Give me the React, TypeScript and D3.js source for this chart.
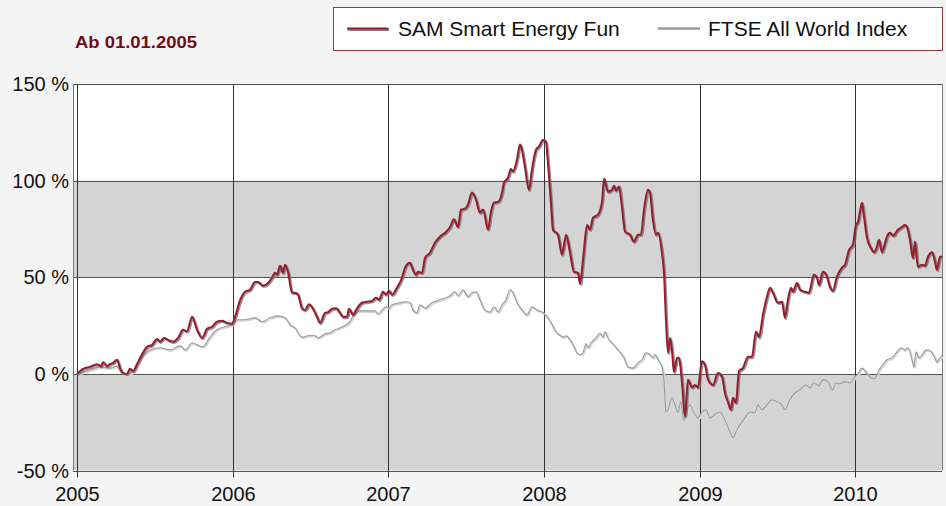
import React from 'react';
import * as d3 from 'd3';

// years since 01.01.2005, performance in %
const samSeries: [number, number][] = [
  [0, 0], [0.039, 2.6], [0.083, 3.6], [0.128, 5], [0.154, 4], [0.167, 6], [0.193, 4], [0.212, 5],
  [0.231, 5.7], [0.257, 7.3], [0.276, 3], [0.295, 0.5], [0.321, 0], [0.34, 2.6], [0.36, 1.5],
  [0.385, 5], [0.417, 10], [0.45, 14], [0.482, 15], [0.514, 18], [0.533, 16.6], [0.559, 18.6],
  [0.584, 17.6], [0.617, 16.6], [0.649, 18.6], [0.681, 22.8], [0.706, 22], [0.739, 29.5],
  [0.771, 22.8], [0.803, 18.6], [0.835, 23.3], [0.867, 24.4], [0.899, 27], [0.931, 27.5],
  [0.963, 26.4], [0.996, 26], [1.015, 29.5], [1.047, 38], [1.079, 42.5], [1.111, 43.5],
  [1.143, 47.6], [1.162, 47.6], [1.195, 45.6], [1.227, 47], [1.252, 49.7], [1.272, 52.3],
  [1.285, 51.3], [1.304, 56], [1.323, 52.3], [1.336, 56.5], [1.355, 52.8], [1.381, 42],
  [1.4, 42], [1.419, 41], [1.445, 34], [1.464, 33], [1.49, 36], [1.516, 33.7], [1.541, 29.5],
  [1.561, 26.4], [1.593, 31.6], [1.612, 32], [1.638, 33.7], [1.663, 34], [1.689, 31.6],
  [1.708, 29.5], [1.734, 29.5], [1.747, 33.7], [1.773, 30.6], [1.792, 33], [1.83, 36.8],
  [1.863, 37.3], [1.895, 37.8], [1.92, 39.4], [1.94, 38.3], [1.965, 42.5], [1.985, 41],
  [2.004, 43], [2.023, 41], [2.055, 44.6], [2.087, 49.7], [2.107, 55], [2.139, 57.5],
  [2.152, 55], [2.177, 51.3], [2.19, 52.8], [2.216, 52.3], [2.235, 60], [2.267, 62.7],
  [2.299, 67.9], [2.331, 71], [2.364, 73], [2.396, 76], [2.421, 80], [2.447, 76], [2.466, 85],
  [2.492, 85.5], [2.511, 87.6], [2.537, 93.8], [2.563, 90], [2.588, 83.4], [2.608, 85],
  [2.64, 74.6], [2.659, 84], [2.678, 88.6], [2.704, 89], [2.73, 93.8], [2.742, 99],
  [2.768, 101.5], [2.787, 106], [2.8, 104.7], [2.826, 111], [2.845, 118.7], [2.858, 116],
  [2.877, 107], [2.903, 95.3], [2.922, 105.7], [2.948, 116], [2.967, 117.6], [2.993, 121],
  [3.012, 120], [3.025, 109], [3.044, 88.6], [3.057, 74.6], [3.089, 72], [3.115, 61.7],
  [3.141, 72], [3.166, 63], [3.192, 52.8], [3.218, 52.3], [3.231, 46.6], [3.25, 59], [3.276, 77],
  [3.295, 74.6], [3.314, 80.8], [3.346, 82.4], [3.372, 89], [3.385, 101], [3.41, 94.3],
  [3.436, 95.3], [3.449, 97.4], [3.462, 94.8], [3.481, 97], [3.5, 86.5], [3.52, 73.6],
  [3.552, 72], [3.577, 68.4], [3.603, 72], [3.622, 72], [3.642, 85], [3.667, 95.3],
  [3.68, 93.8], [3.699, 79.8], [3.719, 72], [3.732, 73], [3.757, 62.7], [3.77, 52.3],
  [3.783, 28], [3.796, 10.9], [3.809, 18.6], [3.821, 12.4], [3.834, 1], [3.854, 8.3],
  [3.866, 8.3], [3.886, -4.7], [3.905, -22], [3.924, -3], [3.95, -7], [3.969, -5.7],
  [3.988, -7], [4.014, 6.5], [4.033, 4.7], [4.053, -3], [4.085, -5.7], [4.117, 0.5],
  [4.143, -1.5], [4.162, -10], [4.181, -14.5], [4.2, -18.6], [4.213, -12.4], [4.232, -15],
  [4.252, 1.5], [4.277, 3], [4.31, 8.8], [4.335, 8.8], [4.361, 21.8], [4.38, 19], [4.406, 30.6],
  [4.432, 40], [4.451, 44.6], [4.47, 42], [4.502, 36.8], [4.528, 37.3], [4.547, 29],
  [4.566, 38.3], [4.586, 44.6], [4.599, 42.5], [4.624, 47], [4.644, 43.5], [4.676, 42.5],
  [4.701, 42], [4.733, 51.3], [4.753, 49.7], [4.766, 46], [4.791, 52.8], [4.817, 50.3],
  [4.836, 45], [4.855, 43], [4.881, 50.3], [4.913, 55], [4.933, 56.5], [4.958, 64], [4.984, 67],
  [5.003, 77], [5.016, 78.5], [5.029, 84], [5.042, 88.6], [5.055, 81.3], [5.074, 70.5],
  [5.1, 65], [5.119, 63], [5.138, 65.8], [5.151, 69.4], [5.17, 63], [5.183, 65.8], [5.202, 71],
  [5.222, 73], [5.241, 71.5], [5.273, 74.6], [5.299, 76], [5.318, 77], [5.331, 76], [5.35, 69.4],
  [5.369, 60], [5.382, 68.4], [5.401, 55.4], [5.427, 56.5], [5.446, 56], [5.466, 60.6],
  [5.491, 63], [5.511, 58], [5.523, 53.9], [5.543, 60.6], [5.556, 60.6],
];

const ftseSeries: [number, number][] = [
  [0, 0], [0.083, 2], [0.148, 3.6], [0.212, 3], [0.257, 4], [0.276, 1.5], [0.321, 0], [0.36, 1],
  [0.405, 7.3], [0.469, 12.4], [0.533, 13.5], [0.597, 12.4], [0.662, 14.5], [0.694, 12.4],
  [0.739, 16], [0.771, 15], [0.809, 14], [0.854, 19], [0.899, 22.8], [0.951, 24.4],
  [0.996, 25.4], [1.028, 28], [1.079, 28], [1.143, 29], [1.188, 27], [1.24, 29], [1.291, 30],
  [1.336, 29], [1.368, 25.4], [1.4, 23.8], [1.445, 19], [1.496, 20], [1.529, 19.7],
  [1.548, 18.6], [1.593, 20.7], [1.625, 21.2], [1.657, 22.8], [1.689, 23.8], [1.721, 25],
  [1.753, 27], [1.785, 31.6], [1.818, 32.6], [1.882, 32.6], [1.914, 32.6], [1.933, 31],
  [1.959, 33], [1.985, 34.7], [2.004, 34], [2.023, 35.8], [2.075, 36.8], [2.107, 37.3],
  [2.139, 36.8], [2.158, 33], [2.184, 31.6], [2.203, 35.8], [2.235, 34], [2.28, 36.8],
  [2.331, 38.3], [2.396, 40.4], [2.428, 42.5], [2.447, 40.4], [2.479, 43.5], [2.511, 40],
  [2.537, 42], [2.563, 42.5], [2.588, 38.3], [2.62, 33], [2.653, 32], [2.678, 34.7], [2.704, 32],
  [2.73, 35.8], [2.755, 38.3], [2.781, 43.5], [2.8, 42], [2.826, 36.8], [2.858, 33],
  [2.89, 30.6], [2.922, 34.7], [2.954, 33], [2.987, 32], [3.025, 29], [3.051, 25.4],
  [3.076, 21.8], [3.102, 20], [3.121, 19], [3.141, 19.7], [3.166, 17.6], [3.192, 14],
  [3.211, 10.9], [3.231, 10], [3.25, 10.9], [3.269, 15.5], [3.282, 13.5], [3.301, 16],
  [3.333, 18.6], [3.359, 21], [3.378, 19], [3.391, 21.8], [3.41, 18.6], [3.436, 16],
  [3.475, 12.4], [3.513, 8.3], [3.539, 3.6], [3.571, 3], [3.603, 5.7], [3.629, 7.3],
  [3.654, 10.9], [3.68, 10], [3.699, 8.3], [3.712, 10], [3.732, 7.3], [3.757, 3.6], [3.77, -3],
  [3.776, -11], [3.783, -19.7], [3.796, -18.6], [3.821, -12.4], [3.841, -16], [3.86, -20],
  [3.879, -14.5], [3.898, -24], [3.918, -18.6], [3.937, -16], [3.963, -20], [3.988, -22.8],
  [4.014, -19.7], [4.04, -18.6], [4.066, -22.8], [4.098, -21], [4.13, -19.7], [4.162, -24],
  [4.194, -30], [4.213, -33], [4.239, -29], [4.258, -26.4], [4.29, -22.8], [4.322, -19.7],
  [4.355, -20], [4.374, -16], [4.4, -18.6], [4.432, -16], [4.464, -13.5], [4.496, -14.5],
  [4.528, -16], [4.547, -18.6], [4.579, -13.5], [4.611, -10], [4.644, -8.3], [4.682, -5.7],
  [4.708, -7.3], [4.733, -4.7], [4.766, -6.2], [4.791, -3], [4.823, -4], [4.855, -8.3],
  [4.875, -4.7], [4.9, -5.2], [4.933, -4], [4.965, -4.7], [4.997, -1.5], [5.016, 0], [5.042, 3],
  [5.067, 1], [5.1, -2], [5.125, -2.5], [5.151, 2], [5.177, 4.7], [5.202, 7.3], [5.234, 8.3],
  [5.267, 11.4], [5.292, 13.5], [5.318, 12.4], [5.337, 13.5], [5.363, 7.3], [5.376, 3.6],
  [5.389, 11.4], [5.408, 8.3], [5.427, 9.8], [5.453, 12.4], [5.479, 12], [5.504, 9.3],
  [5.523, 6.2], [5.543, 8.3], [5.556, 9.3],
];

const yearTicks = [2005, 2006, 2007, 2008, 2009, 2010];
const percentTicks = [150, 100, 50, 0, -50];
const bands: [number, number][] = [[50, 100], [-50, 0]];
const legendNames = ['SAM Smart Energy Fun', 'FTSE All World Index'];
const title = 'Ab 01.01.2005';

const W = 946;
const H = 506;
const RED = '#9a1b2b';
const FONT = 'Arial, "Liberation Sans", sans-serif';

export default function App() {
  const plotLeft = 73;
  const plotRight = 942;
  const x = d3.scaleLinear().domain([0, 5.556]).range([77, plotRight]);
  const y = d3.scaleLinear().domain([-50, 150]).range([470.5, 84]);

  const line = d3.line<[number, number]>()
    .x(d => x(d[0]))
    .y(d => y(d[1]))
    .curve(d3.curveMonotoneX);

  const samPath = line(samSeries) || '';
  const ftsePath = line(ftseSeries) || '';

  return (
    <svg width={W} height={H} style={{ position: 'absolute', left: 0, top: 0 }} fontFamily={FONT}>
      <rect x={0} y={0} width={W} height={H} fill="#f4f4f4" />

      <text x={75} y={48} fontSize={17} fontWeight="bold" fill="#6e0d1c"
        textLength={122} lengthAdjust="spacingAndGlyphs">{title}</text>

      {/* legend */}
      <rect x={333.5} y={7.5} width={609} height={43} fill="#fff" stroke="#9a3a44" />
      <line x1={347} x2={388} y1={28.5} y2={28.5} stroke="#888" strokeWidth={3} transform="translate(1,1)" />
      <line x1={347} x2={388} y1={28.5} y2={28.5} stroke={RED} strokeWidth={2} />
      <text x={398} y={35.5} fontSize={21} fill="#111">{legendNames[0]}</text>
      <line x1={658} x2={700} y1={28.5} y2={28.5} stroke="#bbb" strokeWidth={3} />
      <line x1={658} x2={700} y1={28.5} y2={28.5} stroke="#999" strokeWidth={1.5} />
      <text x={708} y={35.5} fontSize={21} fill="#111">{legendNames[1]}</text>

      {/* plot background */}
      <rect x={plotLeft} y={y(150)} width={plotRight - plotLeft} height={y(-50) - y(150)} fill="#fff" />
      {bands.map(([a, b]) => (
        <rect key={a} x={plotLeft} y={y(b)} width={plotRight - plotLeft} height={y(a) - y(b)} fill="#d4d4d4" />
      ))}

      {/* grid */}
      {percentTicks.map(v => (
        <line key={v} x1={plotLeft} x2={plotRight} y1={Math.round(y(v)) + 0.5} y2={Math.round(y(v)) + 0.5}
          stroke="#555" strokeWidth={1} />
      ))}
      {yearTicks.map(yr => {
        const px = Math.round(x(yr - 2005)) + 0.5;
        return (
          <g key={yr}>
            <line x1={px} x2={px} y1={y(150)} y2={y(-50) + 7} stroke="#333" strokeWidth={1} />
            <text x={px} y={501} fontSize={20} textAnchor="middle" fill="#111">{yr}</text>
          </g>
        );
      })}
      <line x1={plotLeft + 0.5} x2={plotLeft + 0.5} y1={y(150)} y2={y(-50)} stroke="#777" />
      <line x1={plotRight + 0.5} x2={plotRight + 0.5} y1={y(150)} y2={y(-50)} stroke="#777" />

      {percentTicks.map(v => (
        <text key={v} x={69} y={y(v) + 7} fontSize={20} textAnchor="end" fill="#111">{`${v} %`}</text>
      ))}

      {/* series */}
      <path d={ftsePath} fill="none" stroke="#d8d8d8" strokeWidth={2} transform="translate(1,1)" />
      <path d={ftsePath} fill="none" stroke="#9a9a9a" strokeWidth={1.1} />
      <path d={samPath} fill="none" stroke="#6a6a6a" strokeWidth={2.6} strokeOpacity={0.7} transform="translate(1,1)" />
      <path d={samPath} fill="none" stroke={RED} strokeWidth={2} />
    </svg>
  );
}
